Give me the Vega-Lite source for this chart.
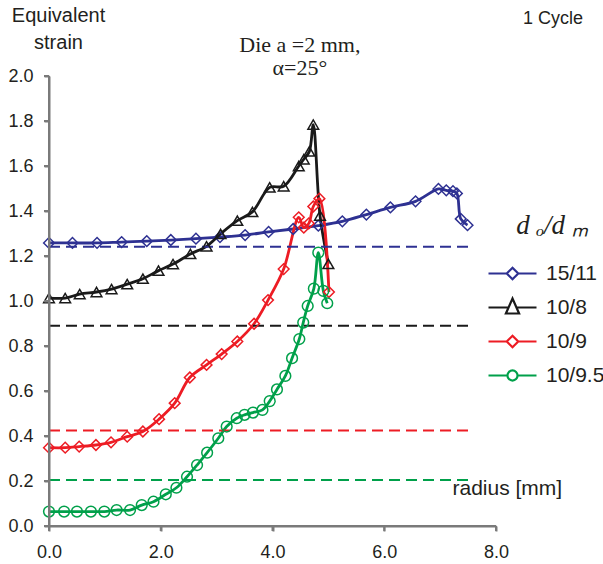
{
  "$schema": "https://vega.github.io/schema/vega-lite/v6.json",
  "width": 447,
  "height": 450,
  "autosize": {"type": "none"},
  "padding": {"left": 49, "top": 76, "right": 107, "bottom": 38},
  "background": "white",
  "config": {
    "view": {"stroke": null},
    "font": "Liberation Sans",
    "axis": {
      "grid": false, "labelFlush": false, "domain": true, "ticks": true,
      "domainColor": "#7A7A7A", "domainWidth": 2, "tickColor": "#7A7A7A", "tickWidth": 2, "tickSize": 5,
      "labelFont": "Liberation Sans", "labelFontSize": 18, "labelColor": "#231F20",
      "titleFont": "Liberation Sans", "titleFontSize": 20, "titleFontWeight": "normal", "titleColor": "#231F20"
    }
  },
  "datasets": {
    "curves": [
      {"series": "15/11", "r": 0, "strain": 1.258},
      {"series": "15/11", "r": 0.42, "strain": 1.258},
      {"series": "15/11", "r": 0.86, "strain": 1.258},
      {"series": "15/11", "r": 1.30, "strain": 1.262},
      {"series": "15/11", "r": 1.75, "strain": 1.266},
      {"series": "15/11", "r": 2.18, "strain": 1.271},
      {"series": "15/11", "r": 2.63, "strain": 1.277},
      {"series": "15/11", "r": 3.06, "strain": 1.284},
      {"series": "15/11", "r": 3.51, "strain": 1.293},
      {"series": "15/11", "r": 3.93, "strain": 1.307},
      {"series": "15/11", "r": 4.37, "strain": 1.320},
      {"series": "15/11", "r": 4.82, "strain": 1.335},
      {"series": "15/11", "r": 5.25, "strain": 1.354},
      {"series": "15/11", "r": 5.68, "strain": 1.384},
      {"series": "15/11", "r": 6.11, "strain": 1.416},
      {"series": "15/11", "r": 6.56, "strain": 1.443},
      {"series": "15/11", "r": 6.97, "strain": 1.498},
      {"series": "15/11", "r": 7.11, "strain": 1.492},
      {"series": "15/11", "r": 7.23, "strain": 1.488},
      {"series": "15/11", "r": 7.30, "strain": 1.478},
      {"series": "15/11", "r": 7.37, "strain": 1.365},
      {"series": "15/11", "r": 7.49, "strain": 1.337},
      {"series": "10/8", "r": 0, "strain": 1.013},
      {"series": "10/8", "r": 0.29, "strain": 1.013},
      {"series": "10/8", "r": 0.55, "strain": 1.031},
      {"series": "10/8", "r": 0.85, "strain": 1.040},
      {"series": "10/8", "r": 1.12, "strain": 1.053},
      {"series": "10/8", "r": 1.40, "strain": 1.075},
      {"series": "10/8", "r": 1.68, "strain": 1.099},
      {"series": "10/8", "r": 1.96, "strain": 1.135},
      {"series": "10/8", "r": 2.22, "strain": 1.164},
      {"series": "10/8", "r": 2.53, "strain": 1.209},
      {"series": "10/8", "r": 2.82, "strain": 1.243},
      {"series": "10/8", "r": 3.07, "strain": 1.298},
      {"series": "10/8", "r": 3.37, "strain": 1.357},
      {"series": "10/8", "r": 3.64, "strain": 1.396},
      {"series": "10/8", "r": 3.95, "strain": 1.505},
      {"series": "10/8", "r": 4.20, "strain": 1.510},
      {"series": "10/8", "r": 4.47, "strain": 1.600},
      {"series": "10/8", "r": 4.56, "strain": 1.630},
      {"series": "10/8", "r": 4.66, "strain": 1.665},
      {"series": "10/8", "r": 4.73, "strain": 1.784},
      {"series": "10/8", "r": 4.85, "strain": 1.380},
      {"series": "10/8", "r": 5.00, "strain": 1.165},
      {"series": "10/9", "r": 0, "strain": 0.348},
      {"series": "10/9", "r": 0.29, "strain": 0.348},
      {"series": "10/9", "r": 0.54, "strain": 0.353},
      {"series": "10/9", "r": 0.84, "strain": 0.360},
      {"series": "10/9", "r": 1.11, "strain": 0.372},
      {"series": "10/9", "r": 1.40, "strain": 0.397},
      {"series": "10/9", "r": 1.68, "strain": 0.420},
      {"series": "10/9", "r": 1.97, "strain": 0.475},
      {"series": "10/9", "r": 2.25, "strain": 0.546},
      {"series": "10/9", "r": 2.52, "strain": 0.660},
      {"series": "10/9", "r": 2.82, "strain": 0.716},
      {"series": "10/9", "r": 3.09, "strain": 0.764},
      {"series": "10/9", "r": 3.37, "strain": 0.820},
      {"series": "10/9", "r": 3.67, "strain": 0.899},
      {"series": "10/9", "r": 3.92, "strain": 1.004},
      {"series": "10/9", "r": 4.20, "strain": 1.142},
      {"series": "10/9", "r": 4.47, "strain": 1.372},
      {"series": "10/9", "r": 4.56, "strain": 1.326},
      {"series": "10/9", "r": 4.65, "strain": 1.345},
      {"series": "10/9", "r": 4.73, "strain": 1.420},
      {"series": "10/9", "r": 4.84, "strain": 1.455},
      {"series": "10/9", "r": 5.01, "strain": 1.040},
      {"series": "10/9.5", "r": 0, "strain": 0.064},
      {"series": "10/9.5", "r": 0.27, "strain": 0.064},
      {"series": "10/9.5", "r": 0.50, "strain": 0.064},
      {"series": "10/9.5", "r": 0.75, "strain": 0.064},
      {"series": "10/9.5", "r": 0.99, "strain": 0.064},
      {"series": "10/9.5", "r": 1.21, "strain": 0.071},
      {"series": "10/9.5", "r": 1.45, "strain": 0.071},
      {"series": "10/9.5", "r": 1.66, "strain": 0.093},
      {"series": "10/9.5", "r": 1.87, "strain": 0.108},
      {"series": "10/9.5", "r": 2.09, "strain": 0.141},
      {"series": "10/9.5", "r": 2.28, "strain": 0.170},
      {"series": "10/9.5", "r": 2.47, "strain": 0.219},
      {"series": "10/9.5", "r": 2.65, "strain": 0.271},
      {"series": "10/9.5", "r": 2.83, "strain": 0.326},
      {"series": "10/9.5", "r": 3.03, "strain": 0.390},
      {"series": "10/9.5", "r": 3.18, "strain": 0.442},
      {"series": "10/9.5", "r": 3.36, "strain": 0.479},
      {"series": "10/9.5", "r": 3.50, "strain": 0.494},
      {"series": "10/9.5", "r": 3.65, "strain": 0.504},
      {"series": "10/9.5", "r": 3.82, "strain": 0.516},
      {"series": "10/9.5", "r": 3.95, "strain": 0.555},
      {"series": "10/9.5", "r": 4.08, "strain": 0.607},
      {"series": "10/9.5", "r": 4.23, "strain": 0.667},
      {"series": "10/9.5", "r": 4.35, "strain": 0.746},
      {"series": "10/9.5", "r": 4.48, "strain": 0.831},
      {"series": "10/9.5", "r": 4.55, "strain": 0.904},
      {"series": "10/9.5", "r": 4.63, "strain": 0.978},
      {"series": "10/9.5", "r": 4.74, "strain": 1.055},
      {"series": "10/9.5", "r": 4.82, "strain": 1.215},
      {"series": "10/9.5", "r": 4.91, "strain": 1.045},
      {"series": "10/9.5", "r": 4.98, "strain": 0.990}
    ],
    "levels": [
      {"series": "15/11", "level": 1.241},
      {"series": "10/8", "level": 0.89},
      {"series": "10/9", "level": 0.424},
      {"series": "10/9.5", "level": 0.204}
    ],
    "xticks": [{"v": 0}, {"v": 2}, {"v": 4}, {"v": 6}, {"v": 8}],
    "yticks": [{"v": 0}, {"v": 0.2}, {"v": 0.4}, {"v": 0.6}, {"v": 0.8}, {"v": 1}, {"v": 1.2}, {"v": 1.4}, {"v": 1.6}, {"v": 1.8}, {"v": 2}],
    "cycle": [{"note": "1 Cycle"}],
    "die": [{"note": "Die a =2 mm,\nα=25°"}],
    "one": [{"k": 1}]
  },
  "layer": [
    {
      "data": {"name": "curves"},
      "mark": {"type": "line", "strokeWidth": 2.8, "interpolate": "catmull-rom"},
      "encoding": {
        "x": {"field": "r", "type": "quantitative", "scale": {"domain": [0, 8], "nice": false},
          "axis": {"title": "radius [mm]", "values": [0, 2, 4, 6, 8], "format": ".1f", "labelPadding": 12,
            "domain": true, "ticks": true, "zindex": 2,
            "titleFontSize": 21, "titleAlign": "left", "titleBaseline": "alphabetic", "titleX": 403, "titleY": -32}},
        "y": {"field": "strain", "type": "quantitative", "scale": {"domain": [0, 2], "nice": false},
          "axis": {"title": ["Equivalent", "strain"], "values": [0, 0.2, 0.4, 0.6, 0.8, 1, 1.2, 1.4, 1.6, 1.8, 2], "format": ".1f",
            "domain": true, "ticks": true, "zindex": 2,
            "labelPadding": 11, "titleAngle": 0, "titleAlign": "center", "titleBaseline": "alphabetic", "titleLineHeight": 27,
            "titleX": 9, "titleY": -55}},
        "color": {"field": "series", "type": "nominal",
          "scale": {"domain": ["15/11", "10/8", "10/9", "10/9.5"], "range": ["#2E3192", "#1A1A1A", "#ED1C24", "#00A04A"]},
          "legend": {
            "orient": "none", "legendX": 450, "legendY": 137,
            "title": "d ₒ/d ₘ", "titleFont": "Liberation Serif", "titleFontStyle": "italic", "titleFontSize": 27,
            "titleFontWeight": "normal", "titleColor": "#231F20", "titleAnchor": "middle", "titlePadding": 20,
            "labelFont": "Liberation Sans", "labelFontSize": 21, "labelColor": "#231F20", "labelOffset": 20,
            "symbolSize": 576, "symbolStrokeWidth": 2.2, "symbolFillColor": "white", "rowPadding": 10,
            "symbolType": {"expr": "datum.value === '10/8' ? 'M-2,0H-0.33M0.33,0H2M0,-0.75L0.55,0.5L-0.55,0.5Z' : datum.value === '10/9.5' ? 'M-2,0H-0.42M0.42,0H2M0.42,0A0.42,0.42 0 1,1 -0.42,0A0.42,0.42 0 1,1 0.42,0Z' : 'M-2,0H-0.48M0.48,0H2M0,-0.48L0.48,0L0,0.48L-0.48,0Z'"}
          }
        },
        "order": {"value": null}
      }
    },
    {
      "data": {"name": "levels"},
      "mark": {"type": "rule", "strokeDash": [11, 6], "strokeWidth": 2},
      "encoding": {
        "x": {"datum": 0, "type": "quantitative", "scale": {"domain": [0, 8], "nice": false}},
        "x2": {"datum": 7.5},
        "y": {"field": "level", "type": "quantitative", "scale": {"domain": [0, 2], "nice": false}},
        "stroke": {"field": "series", "type": "nominal", "legend": null,
          "scale": {"domain": ["10/9.5", "10/9", "10/8", "15/11"], "range": ["#00A04A", "#ED1C24", "#1A1A1A", "#2E3192"]}}
      }
    },
    {
      "data": {"name": "curves"},
      "mark": {"type": "point", "filled": false, "strokeWidth": 1.5, "size": 115, "opacity": 1},
      "encoding": {
        "x": {"field": "r", "type": "quantitative", "scale": {"domain": [0, 8], "nice": false}},
        "y": {"field": "strain", "type": "quantitative", "scale": {"domain": [0, 2], "nice": false}},
        "stroke": {"field": "series", "type": "nominal", "legend": null,
          "scale": {"domain": ["10/9.5", "10/9", "10/8", "15/11"], "range": ["#00A04A", "#ED1C24", "#1A1A1A", "#2E3192"]}},
        "shape": {"field": "series", "type": "nominal", "legend": null,
          "scale": {"domain": ["10/8", "15/11", "10/9", "10/9.5"], "range": ["triangle-up", "diamond", "diamond", "circle"]}}
      }
    },
    {
      "data": {"name": "one"},
      "mark": {"type": "rule", "color": "#7A7A7A", "strokeWidth": 2},
      "encoding": {
        "x": {"datum": 0, "type": "quantitative", "scale": {"domain": [0, 8], "nice": false}},
        "x2": {"datum": 8},
        "y": {"datum": 0, "type": "quantitative", "scale": {"domain": [0, 2], "nice": false}}
      }
    },
    {
      "data": {"name": "one"},
      "mark": {"type": "rule", "color": "#7A7A7A", "strokeWidth": 2},
      "encoding": {
        "x": {"datum": 0, "type": "quantitative", "scale": {"domain": [0, 8], "nice": false}},
        "y": {"datum": 0, "type": "quantitative", "scale": {"domain": [0, 2], "nice": false}},
        "y2": {"datum": 2}
      }
    },
    {
      "data": {"name": "xticks"},
      "mark": {"type": "tick", "orient": "vertical", "color": "#7A7A7A", "thickness": 2, "size": 5, "yOffset": 2.5, "opacity": 1},
      "encoding": {
        "x": {"field": "v", "type": "quantitative", "scale": {"domain": [0, 8], "nice": false}},
        "y": {"datum": 0, "type": "quantitative", "scale": {"domain": [0, 2], "nice": false}}
      }
    },
    {
      "data": {"name": "yticks"},
      "mark": {"type": "tick", "orient": "horizontal", "color": "#7A7A7A", "thickness": 2, "size": 5, "xOffset": -2.5, "opacity": 1},
      "encoding": {
        "x": {"datum": 0, "type": "quantitative", "scale": {"domain": [0, 8], "nice": false}},
        "y": {"field": "v", "type": "quantitative", "scale": {"domain": [0, 2], "nice": false}}
      }
    },
    {
      "data": {"name": "cycle"},
      "mark": {"type": "text", "font": "Liberation Sans", "fontSize": 18, "color": "#231F20", "align": "center", "baseline": "alphabetic"},
      "encoding": {
        "x": {"datum": 9.02, "type": "quantitative", "scale": {"domain": [0, 8], "nice": false}},
        "y": {"datum": 2.229, "type": "quantitative", "scale": {"domain": [0, 2], "nice": false}},
        "text": {"field": "note"}
      }
    },
    {
      "data": {"name": "die"},
      "mark": {"type": "text", "font": "Liberation Serif", "fontSize": 22, "color": "#231F20", "align": "center", "baseline": "alphabetic", "lineBreak": "\n", "lineHeight": 23},
      "encoding": {
        "x": {"datum": 4.49, "type": "quantitative", "scale": {"domain": [0, 8], "nice": false}},
        "y": {"datum": 2.105, "type": "quantitative", "scale": {"domain": [0, 2], "nice": false}},
        "text": {"field": "note"}
      }
    }
  ]
}
